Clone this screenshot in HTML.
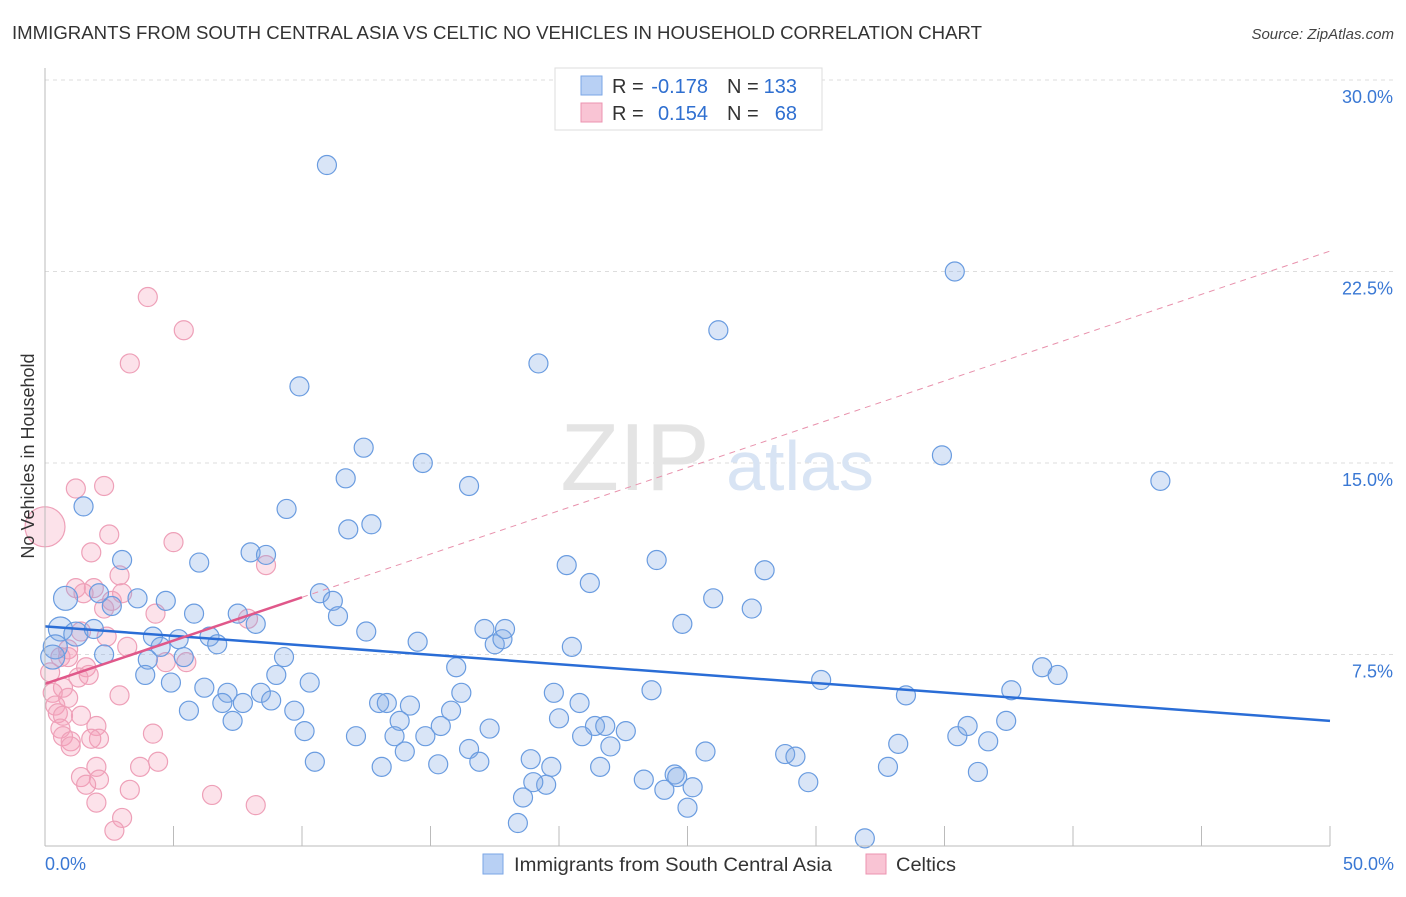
<!DOCTYPE html>
<html><head><meta charset="utf-8"><style>
body{margin:0;background:#fff;font-family:"Liberation Sans",sans-serif}
svg text{font-family:"Liberation Sans",sans-serif}
</style></head><body>
<svg id="chart" width="1406" height="892" viewBox="0 0 1406 892" xmlns="http://www.w3.org/2000/svg">
<text x="12" y="39" font-size="18" fill="#333" textLength="970" lengthAdjust="spacingAndGlyphs">IMMIGRANTS FROM SOUTH CENTRAL ASIA VS CELTIC NO VEHICLES IN HOUSEHOLD CORRELATION CHART</text>
<text x="1394" y="39" font-size="15" fill="#444" text-anchor="end" font-style="italic">Source: ZipAtlas.com</text>
<g id="grid"></g>
<g>
<text x="635" y="490" font-size="96" font-family="Liberation Serif" fill="#e4e4e4" text-anchor="middle">ZIP</text>
<text x="800" y="490" font-size="70" fill="#d8e4f4" text-anchor="middle">atlas</text>
</g>
<g id="pts"></g>
<g id="trends"></g>
<g id="axes"></g>
<text transform="translate(34,456) rotate(-90)" font-size="18" fill="#333" text-anchor="middle">No Vehicles in Household</text>
<g>
<rect x="555" y="68" width="267" height="62" fill="#fff" stroke="#ddd"/>
<rect x="581" y="76" width="21" height="19" fill="#b8d0f4" stroke="#7aa6e6"/>
<rect x="581" y="103" width="21" height="19" fill="#f9c4d4" stroke="#ec93b0"/>
<text x="612" y="93" font-size="20" fill="#333">R =</text>
<text x="708" y="93" font-size="20" fill="#2f6fd0" text-anchor="end">-0.178</text>
<text x="727" y="93" font-size="20" fill="#333">N =</text>
<text x="797" y="93" font-size="20" fill="#2f6fd0" text-anchor="end">133</text>
<text x="612" y="120" font-size="20" fill="#333">R =</text>
<text x="708" y="120" font-size="20" fill="#2f6fd0" text-anchor="end">0.154</text>
<text x="727" y="120" font-size="20" fill="#333">N =</text>
<text x="797" y="120" font-size="20" fill="#2f6fd0" text-anchor="end">68</text>
</g>
<g>
<rect x="483" y="854" width="20" height="20" fill="#b8d0f4" stroke="#7aa6e6"/>
<text x="514" y="871" font-size="19" fill="#333" textLength="318" lengthAdjust="spacingAndGlyphs">Immigrants from South Central Asia</text>
<rect x="866" y="854" width="20" height="20" fill="#f9c4d4" stroke="#ec93b0"/>
<text x="896" y="871" font-size="19" fill="#333" textLength="60" lengthAdjust="spacingAndGlyphs">Celtics</text>
</g>
</svg>
<script>
const blueX=[10.97,35.4,26.2,19.2,9.9,12.4,14.7,34.9,43.4,11.7,16.5,1.5,9.4,12.7,11.8,8.0,8.6,6.0,3.0,20.3,23.8,28.0,21.2,0.8,2.1,2.6,3.6,4.7,10.7,11.2,26.0,27.5,5.8,7.5,11.4,0.6,1.2,1.9,4.2,5.2,6.4,6.7,8.2,12.5,14.5,17.1,17.5,17.8,17.9,24.8,20.5,0.4,0.3,2.3,4.0,4.5,5.4,9.3,3.9,4.9,9.0,10.3,6.2,7.1,8.4,7.7,8.8,5.6,6.9,9.7,7.3,16.0,16.2,19.8,20.8,23.6,13.0,13.3,14.2,15.8,13.8,15.4,17.3,20.0,21.4,21.8,22.6,10.1,12.1,13.6,14.8,20.9,22.0,14.0,16.5,18.9,10.5,13.1,15.3,16.9,19.7,21.6,19.5,19.0,18.6,18.4,23.3,24.1,24.5,24.6,25.2,25.0,25.7,28.8,29.2,29.7,31.9,30.2,33.5,33.2,32.8,35.5,35.9,36.7,36.3,37.4,37.6,38.8,39.4];
const blueY=[26.67,22.5,20.2,18.9,18.0,15.6,15.0,15.3,14.3,14.4,14.1,13.3,13.2,12.6,12.4,11.5,11.4,11.1,11.2,11.0,11.2,10.8,10.3,9.7,9.9,9.4,9.7,9.6,9.9,9.6,9.7,9.3,9.1,9.1,9.0,8.5,8.3,8.5,8.2,8.1,8.2,7.9,8.7,8.4,8.0,8.5,7.9,8.1,8.5,8.7,7.8,7.8,7.4,7.5,7.3,7.8,7.4,7.4,6.7,6.4,6.7,6.4,6.2,6.0,6.0,5.6,5.7,5.3,5.6,5.3,4.9,7.0,6.0,6.0,5.6,6.1,5.6,5.6,5.5,5.3,4.9,4.7,4.6,5.0,4.7,4.7,4.5,4.5,4.3,4.3,4.3,4.3,3.9,3.7,3.8,3.4,3.3,3.1,3.2,3.3,3.1,3.1,2.4,2.5,1.9,0.9,2.6,2.2,2.8,2.7,2.3,1.5,3.7,3.6,3.5,2.5,0.3,6.5,5.9,4.0,3.1,4.3,4.7,4.1,2.9,4.9,6.1,7.0,6.7];
const pinkX=[4.0,5.4,3.3,1.2,2.3,0,2.5,5.0,1.8,2.9,8.6,1.2,1.5,1.9,3.0,2.6,2.3,4.3,7.9,1.4,2.4,3.2,0.6,0.9,1.6,0.2,4.7,5.5,1.3,1.7,0.7,0.3,2.9,0.9,0.4,0.5,0.7,1.4,0.6,2.0,4.2,0.7,1.0,1.0,2.1,1.8,2.0,4.4,3.7,1.4,2.1,1.6,3.3,6.5,2.0,8.2,3.0,2.7,0.9];
const pinkY=[21.5,20.2,18.9,14.0,14.1,12.5,12.2,11.9,11.5,10.6,11.0,10.1,9.9,10.1,9.9,9.6,9.3,9.1,8.9,8.4,8.2,7.8,7.4,7.7,7.0,6.8,7.2,7.2,6.6,6.7,6.2,6.0,5.9,5.8,5.5,5.2,5.1,5.1,4.6,4.7,4.4,4.3,4.1,3.9,4.2,4.2,3.1,3.3,3.1,2.7,2.6,2.4,2.2,2.0,1.7,1.6,1.1,0.6,7.4];
const xTickLabels=["0.0%","50.0%"];
const yTickValues=[7.5,15,22.5,30];
const yTickLabels=["7.5%","15.0%","22.5%","30.0%"];
const blueTrend=[8.6,4.9];
const pinkTrend=[6.35,9.74,23.3];
const NS="http://www.w3.org/2000/svg";
const X=v=>45+v/50*1285, Y=v=>846-v/30*766;
function mk(t,a,p){const e=document.createElementNS(NS,t);for(const k in a)e.setAttribute(k,a[k]);p.appendChild(e);return e;}
const grid=document.getElementById('grid'),axes=document.getElementById('axes'),pts=document.getElementById('pts'),tr=document.getElementById('trends');
yTickValues.forEach((v,i)=>{
 const l=mk('line',{x1:45,x2:1394,y1:Y(v),y2:Y(v),stroke:'#ddd','stroke-dasharray':'4,4'},grid);
 
 
 const t=mk('text',{x:1393,y:Y(v)+23,'font-size':18,fill:'#3a78d4','text-anchor':'end'},axes);
 t.textContent=yTickLabels[i];
 
 
});
mk('line',{x1:45,x2:45,y1:68,y2:846,stroke:'#bbb'},axes);
mk('line',{x1:45,x2:1330,y1:846,y2:846,stroke:'#bbb'},axes);
for(let v=0;v<=50;v+=5){const tk=mk('line',{x1:X(v),x2:X(v),y1:826,y2:846,stroke:'#bbb'},axes);
 
 }
[[0,'start',45],[50,'end',1394]].forEach((d,i)=>{const t=mk('text',{x:d[2],y:870,'font-size':18,fill:'#3a78d4','text-anchor':d[1]},axes);t.textContent=xTickLabels[i];
 
 });
pinkX.forEach((x,i)=>{const c=mk('circle',{cx:X(x),cy:Y(pinkY[i]),r:x===0?20:9.5,fill:'rgba(244,160,186,0.3)',stroke:'#eea0b8','stroke-width':1.2},pts);
 
 });
blueX.forEach((x,i)=>{const big=x<1.6&&blueY[i]>7&&blueY[i]<10;const c=mk('circle',{cx:X(x),cy:Y(blueY[i]),r:big?12:9.5,fill:'rgba(130,170,230,0.3)',stroke:'#6a9ce0','stroke-width':1.2},pts);
 
 });
const b=mk('line',{x1:X(0),y1:Y(blueTrend[0]),x2:X(50),y2:Y(blueTrend[1]),stroke:'#2a6dd6','stroke-width':2.5},tr);


const pd=mk('line',{x1:X(10),y1:Y(pinkTrend[1]),x2:X(50),y2:Y(pinkTrend[2]),stroke:'#e891ac','stroke-width':1,'stroke-dasharray':'6,5'},tr);


const p=mk('line',{x1:X(0),y1:Y(pinkTrend[0]),x2:X(10),y2:Y(pinkTrend[1]),stroke:'#e0588a','stroke-width':2.5},tr);


</script>
</body></html>
